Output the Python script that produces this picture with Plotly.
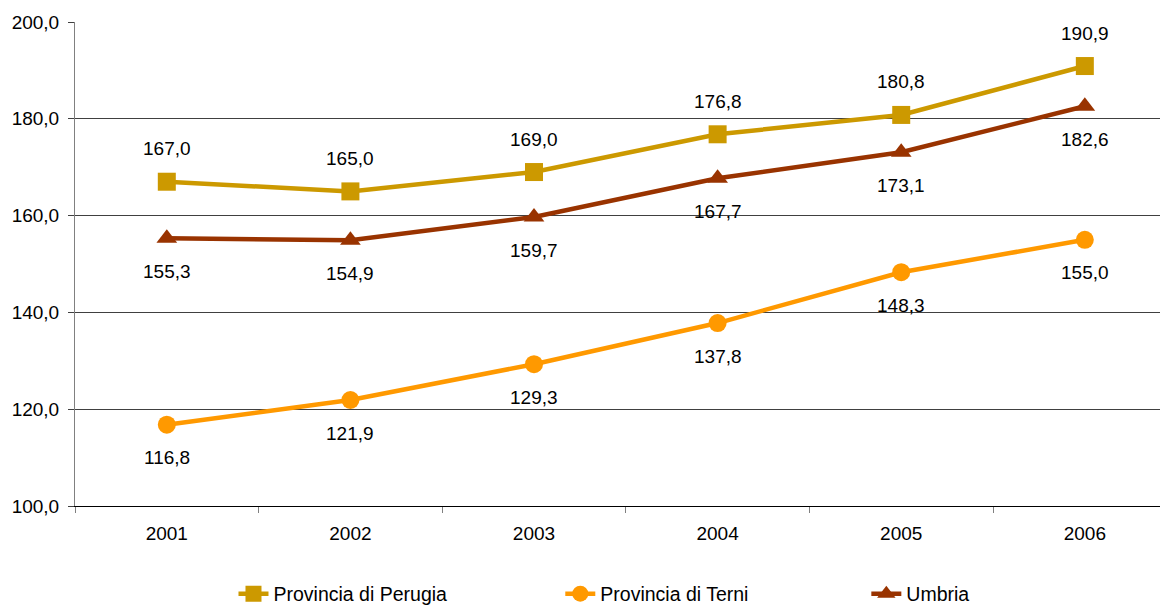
import plotly.graph_objects as go

years = ["2001", "2002", "2003", "2004", "2005", "2006"]
perugia = [167.0, 165.0, 169.0, 176.8, 180.8, 190.9]
terni = [116.8, 121.9, 129.3, 137.8, 148.3, 155.0]
umbria = [155.3, 154.9, 159.7, 167.7, 173.1, 182.6]

FONT = "Liberation Sans, Arial, sans-serif"

# nome, valori, colore, simbolo, etichetta sopra(1)/sotto(-1), legenda, x legenda
series = [
    ("Provincia di Perugia", perugia, "#CC9900", "square", 1, "legend", 0.145),
    ("Provincia di Terni", terni, "#FF9900", "circle", -1, "legend2", 0.444),
    ("Umbria", umbria, "#993300", "triangle-up", -1, "legend3", 0.724),
]

fig = go.Figure()
annotations = []
legends = {}
for name, vals, color, symbol, side, leg, lx in series:
    fig.add_trace(go.Scatter(
        x=years,
        y=vals,
        name=name,
        mode="lines+markers",
        line=dict(color=color, width=4.5),
        marker=dict(color=color, symbol=symbol, size=18),
        legend=leg,
    ))
    # etichette dei valori sopra o sotto il punto (x = indice della categoria)
    for i, v in enumerate(vals):
        annotations.append(dict(
            x=i, y=v, xref="x", yref="y",
            text=f"{v:.1f}".replace(".", ","),
            showarrow=False,
            yshift=33 * side,
            font=dict(family=FONT, size=19, color="#000000"),
        ))
    legends[leg] = dict(
        orientation="h",
        xref="paper", x=lx, xanchor="left",
        yref="container", y=0.0184, yanchor="middle",
        font=dict(family=FONT, size=19.5),
        bgcolor="rgba(0,0,0,0)",
    )

# la pagina ha un margine di 8px sul body: la figura è più piccola di 8px
fig.update_layout(
    width=1160,
    height=597,
    margin=dict(l=67, r=0, t=14, b=99),
    paper_bgcolor="white",
    plot_bgcolor="white",
    separators=",.",
    font=dict(family=FONT, size=19, color="#000000"),
    annotations=annotations,
    showlegend=True,
    **legends,
    xaxis=dict(
        type="category",
        range=[-0.5, 5.453],
        showgrid=False,
        showline=True,
        linecolor="#000000",
        linewidth=1,
        ticks="outside",
        tickson="boundaries",
        ticklen=6,
        tickcolor="#808080",
        tickfont=dict(size=19),
        ticklabelstandoff=10,
        zeroline=False,
    ),
    yaxis=dict(
        range=[100, 200],
        dtick=20,
        tickformat=".1f",
        showgrid=True,
        gridcolor="#404040",
        gridwidth=1,
        showline=True,
        linecolor="#808080",
        linewidth=1,
        ticks="outside",
        ticklen=6,
        tickcolor="#404040",
        tickfont=dict(size=19),
        ticklabelstandoff=5,
        zeroline=False,
    ),
)

fig.write_html("out.html")
